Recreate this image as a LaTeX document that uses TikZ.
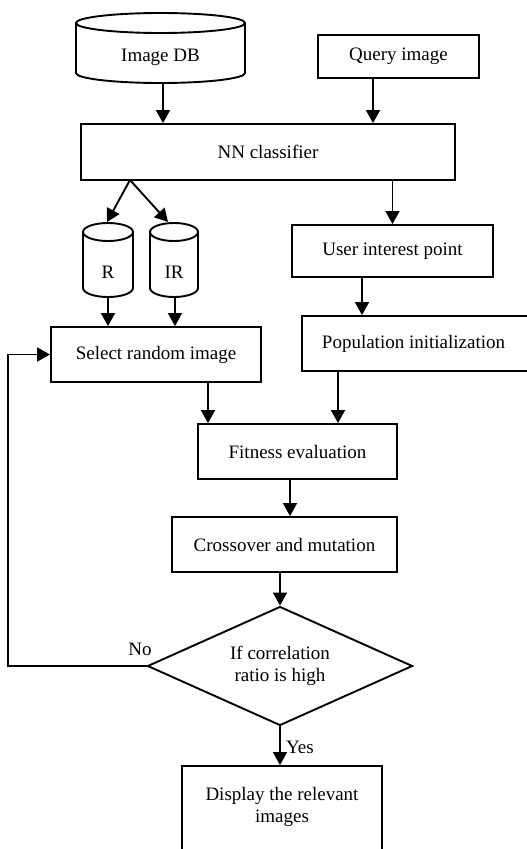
\documentclass[tikz,border=0pt]{standalone}
\usepackage{fontspec}
\setmainfont{Liberation Serif}
\usetikzlibrary{arrows.meta,shapes.geometric,calc}
\begin{document}
\begin{tikzpicture}[x=1pt,y=-1pt,
  ln/.style={line width=1.9pt},
  arr/.style={ln,-{Triangle[length=13pt,width=14pt]}},
  box/.style={ln,draw,rectangle,inner sep=0pt,align=center,font=\fontsize{19}{22}\selectfont},
  txt/.style={inner sep=0pt,align=center,font=\fontsize{19}{22}\selectfont},
  lbl/.style={inner sep=0pt,font=\fontsize{19}{22}\selectfont}]
\useasboundingbox (0,0) rectangle (527,849);
\clip (0,0) rectangle (527,849);
% Image DB cylinder
\draw[ln,fill=white] (76,23) -- (76,73) arc[start angle=180,end angle=360,x radius=84.5pt,y radius=10pt] -- (245,23);
\draw[ln] (160.5,23) ellipse [x radius=84.5pt,y radius=10pt];
\node[txt] (db) at (160.5,57) {Image DB};
\coordinate (dbbot) at (163,83);
% Query
\node[box,minimum width=161pt,minimum height=43pt] (query) at (398.5,56.5) {Query image};
% NN
\node[box,minimum width=374pt,minimum height=56pt] (nn) at (268,152) {NN classifier};
\draw[arr] (dbbot) -- (dbbot |- nn.north);
\draw[arr] ([xshift=-25.5pt]query.south) -- ([xshift=-25.5pt]query.south |- nn.north);
% R and IR cylinders
\draw[ln] (83,232) -- (83,288) arc[start angle=180,end angle=360,x radius=25pt,y radius=9pt] -- (133,232);
\draw[ln] (108,232) ellipse [x radius=25pt,y radius=9pt];
\node[txt] (r) at (108,272) {R};
\draw[ln] (150,232) -- (150,288) arc[start angle=180,end angle=360,x radius=24pt,y radius=9pt] -- (198,232);
\draw[ln] (174,232) ellipse [x radius=24pt,y radius=9pt];
\node[txt] (ir) at (174,272) {IR};
\coordinate (split) at (130,180);
\coordinate (rtop) at (107,222);
\coordinate (irtop) at (168,222);
\coordinate (rbot) at (108,297);
\coordinate (irbot) at (175,297);
\draw[arr] (split) -- (rtop);
\draw[arr] (split) -- (irtop);
% Select
\node[box,minimum width=210pt,minimum height=55pt] (sel) at (156,354.5) {Select random image};
\draw[arr] (rbot) -- (rbot |- sel.north);
\draw[arr] (irbot) -- (irbot |- sel.north);
% User interest point
\node[box,minimum width=201pt,minimum height=52pt] (user) at (392.5,251) {User interest point};
\draw[arr] (user.north |- nn.south) -- (user.north);
% Population
\node[box,minimum width=226pt,minimum height=55pt] (pop) at (415,343.5) {};
\node[txt] (poptxt) at (413.5,343.5) {Population initialization};
\draw[arr] ([xshift=-30.5pt]user.south) -- ([xshift=-30.5pt]user.south |- pop.north);
% Fitness
\node[box,minimum width=199pt,minimum height=55pt] (fit) at (297.5,451.5) {Fitness evaluation};
\draw[arr] ([xshift=52pt]sel.south) -- ([xshift=52pt]sel.south |- fit.north);
\draw[arr] ([xshift=-77pt]pop.south) -- ([xshift=-77pt]pop.south |- fit.north);
% Crossover
\node[box,minimum width=225pt,minimum height=55pt] (cro) at (284.5,544.5) {Crossover and mutation};
\draw[arr] ([xshift=-7.5pt]fit.south) -- ([xshift=-7.5pt]fit.south |- cro.north);
% Decision
\node[ln,draw,diamond,aspect=2.2,inner sep=0pt,minimum width=265pt,minimum height=119pt,align=center,font=\fontsize{19}{22}\selectfont] (dec) at (280,666) {If correlation\\ratio is high};
\draw[arr] (dec.north |- cro.south) -- (dec.north);
% Display
\node[box,minimum width=200pt,minimum height=86pt] (disp) at (282,809) {};
\node[txt] (disptxt) at (282,807) {Display the relevant\\images};
\draw[arr] (dec.south) -- (dec.south |- disp.north);
\node[lbl] (yes) at (300,747) {Yes};
% Feedback
\coordinate (fb) at (8,663);
\draw[arr] (dec.west) -- (dec.west -| fb) -- (fb |- sel.west) -- (sel.west);
\node[lbl] (no) at (140,649) {No};
\end{tikzpicture}
\end{document}
